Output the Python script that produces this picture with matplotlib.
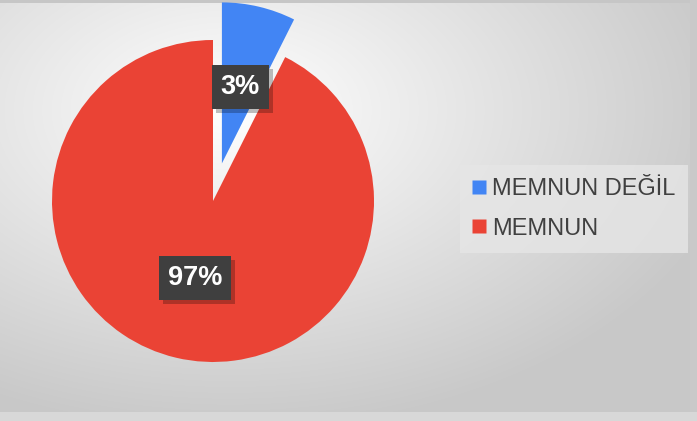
import matplotlib as m
m.use("Agg")
import matplotlib.pyplot as plt
import matplotlib.patheffects as pe
from matplotlib.lines import Line2D
import numpy as np

# pie data (slice shares as drawn) and the labels shown on them
categories = ["MEMNUN DEĞİL", "MEMNUN"]
shares = [7.4, 92.6]
pct_labels = ["3%", "97%"]
colors = ["#4285f4", "#ea4335"]
explode = [0.24, 0]

W, H = 697, 421
fig = plt.figure(figsize=(W / 100, H / 100), dpi=100)
plt.rcParams['font.family'] = ['Liberation Sans', 'DejaVu Sans']

# background: soft radial grey gradient
bg = fig.add_axes([0, 0, 1, 1])
yy, xx = np.mgrid[0:H, 0:W]
d = np.sqrt(((xx - 230) / 1.6) ** 2 + (yy - 110) ** 2)
v = np.clip(255 - 0.17 * d, 200, 255) / 255.0
img = np.dstack([v, v, v])
img[:3, :] = 0.78
img[:, 690:] = 0.79
img[412:, :] = 0.85
bg.imshow(img, extent=[0, W, H, 0], aspect='auto')
bg.axis('off')

# pie axes: center (213, 201) px, radius 161 px
cx, cy, r = 213, 201, 161
half = 200
ax = fig.add_axes([(cx - half) / W, (H - cy - half) / H, 2 * half / W, 2 * half / H])
wedges, _ = ax.pie(shares, colors=colors, startangle=90, counterclock=False,
                   explode=explode, wedgeprops=dict(linewidth=0))
lim = half / r
ax.set_xlim(-lim, lim)
ax.set_ylim(-lim, lim)
ax.set_aspect('equal')
ax.axis('off')

for w, lab in zip(wedges, pct_labels):
    ang = np.deg2rad((w.theta1 + w.theta2) / 2)
    x = w.center[0] + 0.49 * w.r * np.cos(ang)
    y = w.center[1] + 0.49 * w.r * np.sin(ang)
    t = ax.text(x, y, lab, ha='center', va='center', color='white',
                fontsize=19.5, fontweight='bold',
                bbox=dict(boxstyle='square,pad=0.33', fc='#3f3f3f', ec='none'))
    t.get_bbox_patch().set_path_effects([
        pe.SimplePatchShadow(offset=(3, -3), shadow_rgbFace='#000000', alpha=0.25),
        pe.Normal()])

handles = [Line2D([], [], marker='s', linestyle='none', markersize=9.5,
                  markerfacecolor=c, markeredgecolor='none') for c in colors]
leg = fig.legend(handles, categories, loc='upper left',
                 bbox_to_anchor=(460 / W, 1 - 165 / H), fontsize=17,
                 labelcolor='#404040', frameon=True, fancybox=False,
                 facecolor='#e6e6e6', edgecolor='none', framealpha=0.8,
                 handlelength=0.55, handletextpad=0.25, labelspacing=0.75,
                 borderpad=0.55, borderaxespad=0)

fig.savefig("out.png", dpi=100)
